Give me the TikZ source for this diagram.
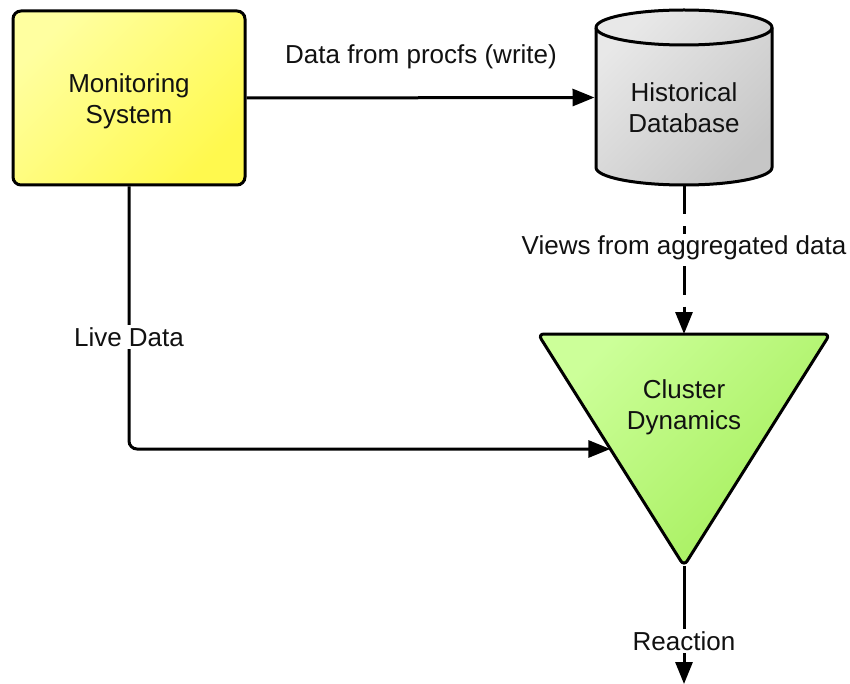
\documentclass[tikz,border=0pt]{standalone}
\usepackage{fontspec}
\setmainfont{Liberation Sans}
\usetikzlibrary{arrows.meta,calc}
\definecolor{ylight}{HTML}{FFFFA0}
\definecolor{ydark}{HTML}{FFF94E}
\definecolor{glight}{HTML}{E8E8E8}
\definecolor{gdark}{HTML}{C6C6C6}
\definecolor{grlight}{HTML}{CCFF99}
\definecolor{grdark}{HTML}{A4EE5A}
\definecolor{txtc}{HTML}{111111}
\begin{document}
\begin{tikzpicture}[x=1pt,y=-1pt,
  font=\fontsize{26}{31}\selectfont,
  line width=3pt,
  conn/.style={draw=black, line width=3pt, -{Triangle[length=22pt,width=17pt]}},
  lbl/.style={fill=white, inner sep=2pt, text=txtc},
  txt/.style={align=center, inner sep=0pt, text=txtc}]
\useasboundingbox[fill=white] (0,0) rectangle (850,684);

% Monitoring System
\node[draw=black, line width=3pt, rounded corners=8pt, minimum width=232pt, minimum height=174pt,
      top color=ylight, bottom color=ydark, shading angle=45] (ms) at (129,98) {};
\node[txt] (mst) at (129,101) {Monitoring\\System};

% Historical Database (cylinder)
\node[minimum width=176pt, minimum height=175pt, inner sep=0pt] (db) at (684,97.5) {};
\path[draw=black, line width=3pt, top color=glight, bottom color=gdark, shading angle=45]
  (596,27.5) -- (596,167.5)
  .. controls (596,177.2) and (635.4,185) .. (684,185)
  .. controls (732.6,185) and (772,177.2) .. (772,167.5)
  -- (772,27.5)
  .. controls (772,17.8) and (732.6,10) .. (684,10)
  .. controls (635.4,10) and (596,17.8) .. (596,27.5) -- cycle;
\draw[line width=3pt] (596,27.5) .. controls (596,37.2) and (635.4,45) .. (684,45)
  .. controls (732.6,45) and (772,37.2) .. (772,27.5);
\node[txt] (dbt) at (684,108) {Historical\\Database};

% Cluster Dynamics (triangle)
\coordinate (tl) at (538,334);
\coordinate (tr) at (830,334);
\coordinate (tb) at (684,566);
\coordinate (ttop) at ($(tl)!0.5!(tr)$);
\coordinate (cdL) at ($(tl)!0.4957!(tb)$);
\path[draw=black, line width=3pt, rounded corners=6pt, top color=grlight, bottom color=grdark, shading angle=45]
  (tl) -- (tr) -- (tb) -- cycle;
\node[txt] (cd) at (684,407) {Cluster\\Dynamics};

% Connectors
\draw[conn] (ms.east) -- (db.west);
\node[txt] (l1) at (421,57) {Data from procfs (write)};

\draw[conn, dash pattern=on 28pt off 12pt] (db.south) -- (ttop);
\node[lbl] (l2) at (684,248) {Views from aggregated data};

\draw[conn, rounded corners=8pt] (ms.south) |- (cdL);
\node[lbl] (l3) at (129,337) {Live Data};

\coordinate (rend) at (684,684);
\draw[conn] (tb) -- (rend);
\node[lbl] (l4) at (684,641) {Reaction};
\end{tikzpicture}
\end{document}
